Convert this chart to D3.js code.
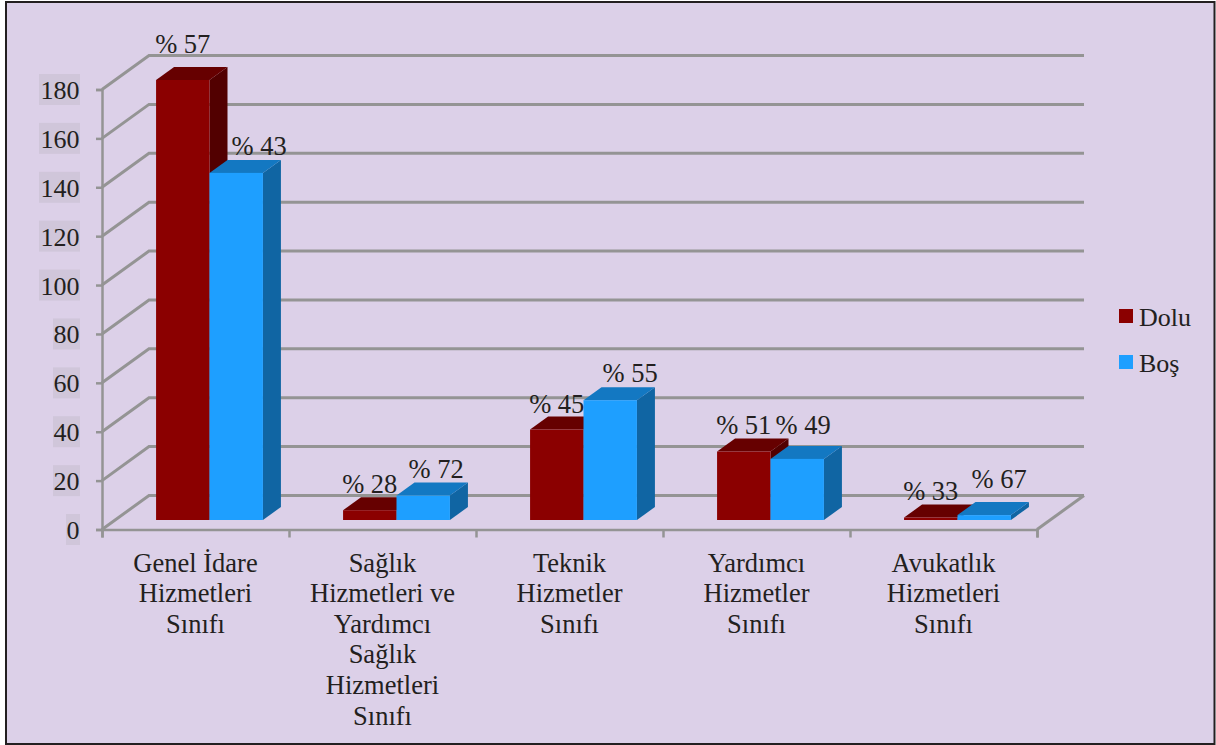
<!DOCTYPE html>
<html>
<head>
<meta charset="utf-8">
<script src="https://cdn.jsdelivr.net/npm/d3@7"></script>
<style>
  html, body { margin: 0; padding: 0; background: #fff; }
  svg { display: block; }
  text { font-family: "Liberation Serif", serif; fill: #231f20; }
</style>
</head>
<body>
<script>
const categories = [
  ['Genel İdare', 'Hizmetleri', 'Sınıfı'],
  ['Sağlık', 'Hizmetleri ve', 'Yardımcı', 'Sağlık', 'Hizmetleri', 'Sınıfı'],
  ['Teknik', 'Hizmetler', 'Sınıfı'],
  ['Yardımcı', 'Hizmetler', 'Sınıfı'],
  ['Avukatlık', 'Hizmetleri', 'Sınıfı']
];
const seriesNames = ['Dolu', 'Boş'];
const dolu = [180, 4, 37, 28, 1];
const bos = [142, 10, 49, 25, 2];
const doluPct = ['% 57', '% 28', '% 45', '% 51', '% 33'];
const bosPct = ['% 43', '% 72', '% 55', '% 49', '% 67'];
const yTicks = [0, 20, 40, 60, 80, 100, 120, 140, 160, 180];
const colors = {
  Dolu: { front: '#8b0000', top: '#660000', side: '#520000' },
  'Boş': { front: '#1e9fff', top: '#1378c2', side: '#1065a3' }
};

const width = 1216, height = 745;
const svg = d3.select('body').append('svg').attr('width', width).attr('height', height);

// panel
svg.append('rect').attr('x', 6).attr('y', 2).attr('width', 1208.5).attr('height', 742)
   .attr('fill', '#dcd0e8').attr('stroke', '#231f20').attr('stroke-width', 2);

const x = d3.scaleBand().domain(d3.range(categories.length)).range([102, 1037]);
const y = d3.scaleLinear().domain([0, 180]).range([529.5, 89.5]);
const inner = d3.scaleBand().domain(seriesNames).range([0, x.bandwidth()]).paddingOuter(0.75).paddingInner(0);

// depth of the floor and the offset of the bars in it
const dx = 47, dy = -34;
const barInsetX = 14, barInsetY = -9.5;
const barDx = 18, barDy = -13;
const gridColor = '#949494';

// grid on the back wall and side wall
const grid = svg.append('g').attr('fill', 'none').attr('stroke', gridColor).attr('stroke-width', 3);
yTicks.forEach(function(t) {
  grid.append('path')
      .attr('d', d3.line()([[x.range()[0], y(t)], [x.range()[0] + dx, y(t) + dy], [x.range()[1] + dx, y(t) + dy]]));
});
grid.append('path')
    .attr('d', d3.line()([[x.range()[1], y(0)], [x.range()[1] + dx, y(0) + dy]]));

// axes
const axisY = svg.append('g').attr('transform', 'translate(' + x.range()[0] + ',0)')
  .call(d3.axisLeft(y).tickValues(yTicks).tickSize(6).tickPadding(0).tickFormat(''));
const axisX = svg.append('g').attr('transform', 'translate(0,' + y(0) + ')')
  .call(d3.axisBottom(d3.scaleLinear().domain([0, categories.length]).range(x.range()))
    .tickValues(d3.range(categories.length + 1)).tickSize(8).tickFormat(''));
[axisY, axisX].forEach(function(a) {
  a.selectAll('path, line').attr('stroke', gridColor).attr('stroke-width', 2.5);
});

// y labels with their darker backing
yTicks.forEach(function(t) {
  const w = t === 0 ? 14 : (t < 100 ? 27 : 41);
  svg.append('rect').attr('x', 80 - w).attr('y', y(t) - 15.5).attr('width', w).attr('height', 31)
     .attr('fill', '#d0c6da');
  svg.append('text').attr('x', 79.5).attr('y', y(t) + 9.5).attr('text-anchor', 'end')
     .attr('font-size', 26).text(t);
});

// bars
const barBase = y(0) + barInsetY;
const pxPerUnit = y(0) - y(1);
function drawBar(i, name, value) {
  const x0 = x(i) + inner(name) + barInsetX;
  const x1 = x0 + inner.bandwidth();
  const yTop = barBase - value * pxPerUnit;
  const c = colors[name];
  const g = svg.append('g');
  g.append('path').attr('fill', c.side)
   .attr('d', d3.line()([[x1, yTop], [x1 + barDx, yTop + barDy], [x1 + barDx, barBase + barDy], [x1, barBase]]) + 'Z');
  g.append('path').attr('fill', c.top)
   .attr('d', d3.line()([[x0, yTop], [x0 + barDx, yTop + barDy], [x1 + barDx, yTop + barDy], [x1, yTop]]) + 'Z');
  g.append('rect').attr('x', x0).attr('y', yTop).attr('width', x1 - x0).attr('height', barBase - yTop)
   .attr('fill', c.front);
  return { x: (x0 + x1) / 2, y: yTop + barDy };
}

// the percent labels were placed by hand in the original, so each has its own nudge
const doluNudge = [[0, -14], [0, -4], [0, -4], [0, -5], [0, -5]];
const bosNudge = [[23, -5], [13, -5], [20, -5], [6, -12], [15, -14]];

// red first so the blue bar covers its side
const labels = [];
categories.forEach(function(c, i) {
  const p = drawBar(i, 'Dolu', dolu[i]);
  labels.push({ x: p.x + doluNudge[i][0], y: p.y + doluNudge[i][1], label: doluPct[i] });
});
categories.forEach(function(c, i) {
  const p = drawBar(i, 'Boş', bos[i]);
  labels.push({ x: p.x + bosNudge[i][0], y: p.y + bosNudge[i][1], label: bosPct[i] });
});

labels.forEach(function(d) {
  svg.append('text').attr('x', d.x).attr('y', d.y).attr('text-anchor', 'middle')
     .attr('font-size', 26.5).text(d.label);
});

// category labels
categories.forEach(function(lines, i) {
  const t = svg.append('text').attr('text-anchor', 'middle').attr('font-size', 26.5);
  lines.forEach(function(line, j) {
    t.append('tspan').attr('x', x(i) + x.bandwidth() / 2).attr('y', 571.5 + j * 30.6).text(line);
  });
});

// legend
seriesNames.forEach(function(name, i) {
  const ly = 317 + i * 46;
  svg.append('rect').attr('x', 1119).attr('y', ly - 8).attr('width', 14).attr('height', 14)
     .attr('fill', colors[name].front);
  svg.append('text').attr('x', 1139).attr('y', ly + 9).attr('font-size', 26).text(name);
});
</script>
</body>
</html>
